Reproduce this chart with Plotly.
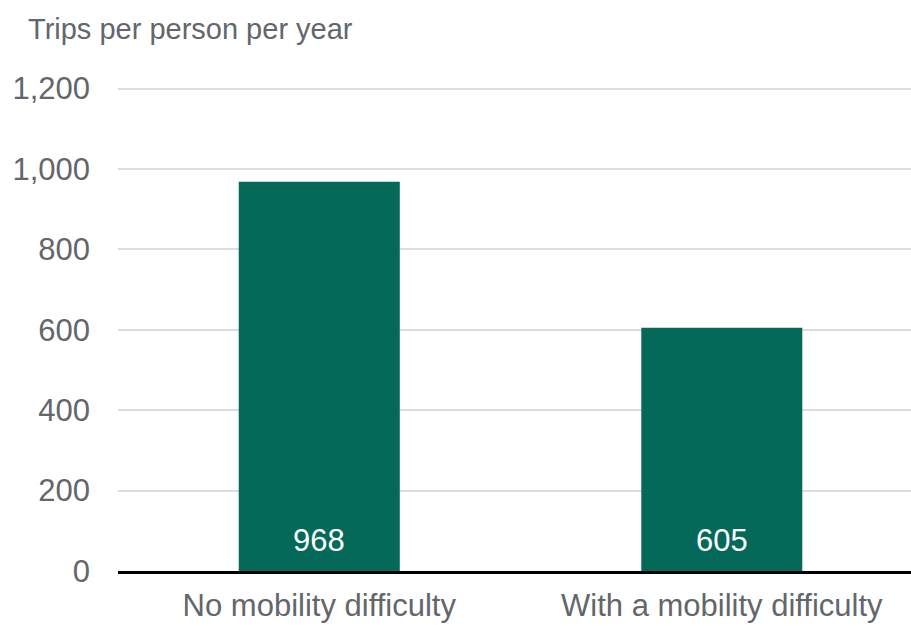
import plotly.graph_objects as go

categories = ["No mobility difficulty", "With a mobility difficulty"]
values = [968, 605]
tick_vals = [0, 200, 400, 600, 800, 1000, 1200]
tick_text = ["0", "200", "400", "600", "800", "1,000", "1,200"]
title_text = "Trips per person per year"

W, H = 911, 626
FONT = "Liberation Sans, Arial, sans-serif"
GREY = "#63666a"
GREEN = "#05695a"

fig = go.Figure()
fig.add_trace(go.Bar(
    x=categories, y=values, width=0.4,
    marker=dict(color=GREEN, line=dict(width=0)),
    hoverinfo="skip",
))

for c, v in zip(categories, values):
    fig.add_annotation(
        x=c, y=0, xref="x", yref="y", text=str(v), showarrow=False,
        yanchor="middle", yshift=31,
        font=dict(family=FONT, size=31, color="white"),
    )

fig.update_layout(
    width=W, height=H,
    margin=dict(l=118, r=0, t=87, b=55, autoexpand=False),
    paper_bgcolor="white", plot_bgcolor="white",
    showlegend=False,
    font=dict(family=FONT, size=30, color=GREY),
    title=dict(
        text=title_text, xref="container", yref="container",
        x=28 / W, xanchor="left", y=1 - 29 / H, yanchor="middle",
        font=dict(family=FONT, size=29, color=GREY),
    ),
)
fig.update_xaxes(
    range=[-0.5, 1.47],
    showline=True, linecolor="black", linewidth=3,
    showgrid=False, ticks="", ticklabelstandoff=5,
    tickfont=dict(family=FONT, size=31, color=GREY),
)
fig.update_yaxes(
    range=[0, 1204], tickvals=tick_vals, ticktext=tick_text,
    showgrid=True, gridcolor="#dcdcdc", gridwidth=1.5,
    zeroline=False, showline=False, ticks="",
    ticklabelstandoff=27,
    tickfont=dict(family=FONT, size=31, color=GREY),
)

fig.write_html(
    "out.html",
    config={"displayModeBar": False},
    post_script="document.body.style.margin='0';document.body.style.padding='0';",
)
